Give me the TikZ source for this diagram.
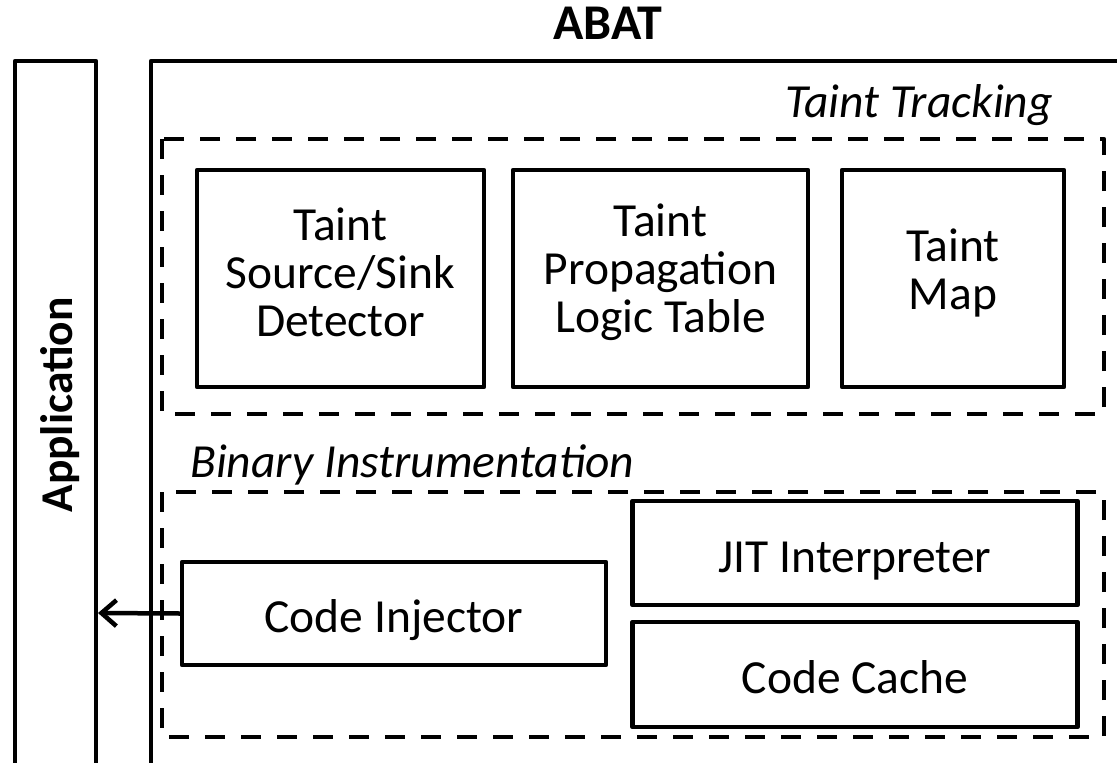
\documentclass[tikz,border=0pt]{standalone}
\usepackage{fontspec}
\setmainfont{Carlito}
\usetikzlibrary{arrows.meta}
\tikzset{
  solidline/.style={line width=4.5pt, line join=round, line cap=round},
  dashline/.style={line width=4.5pt, line join=round, dash pattern=on 20pt off 16pt},
  box/.style={draw, solidline, rectangle, inner sep=0pt},
  onebox/.style={box, align=center, text height=38pt, text depth=0pt,
    font=\fontsize{47.5}{48}\selectfont},
  lbl/.style={inner sep=0pt, align=center, font=\fontsize{47.5}{48}\selectfont},
  arr/.style={solidline, -{Straight Barb[length=15pt, width=26pt, line width=4.5pt]}}
}
\begin{document}
\begin{tikzpicture}[x=1pt, y=-1pt]
\useasboundingbox (0,0) rectangle (1117,763);
% outer frames (cut by the picture edge)
\draw[solidline] (15,775) -- (15,61) -- (96,61) -- (96,775);
\draw[solidline] (151,775) -- (151,61) -- (1130,61);
\node[lbl, font=\fontsize{50}{48}\selectfont\bfseries, anchor=base] (abat) at (608,39) {ABAT};
\node[lbl, font=\fontsize{45.5}{48}\selectfont\bfseries, rotate=90] (app) at (60,405) {Application};
\coordinate (appR) at (98,613);
% taint tracking group
\draw[dashline] (162,139) rectangle (1104,414);
\node[lbl, font=\fontsize{47.5}{48}\selectfont\itshape, anchor=base east] (tt) at (1053,117) {Taint Tracking};
\node[box, minimum width=287pt, minimum height=217pt] (src) at (340.5,278.5) {};
\node[box, minimum width=295pt, minimum height=217pt] (prop) at (660.5,278.5) {};
\node[box, minimum width=222pt, minimum height=217pt] (map) at (953,278.5) {};
\node[lbl, yshift=6pt] (srcT) at (src.center) {Taint\\Source/Sink\\Detector};
\node[lbl, yshift=6pt] (propT) at (prop.center) {Taint\\Propagation\\Logic Table};
\node[lbl, yshift=6pt] (mapT) at (map.center) {Taint\\Map};
% binary instrumentation group
\draw[dashline] (162,492) rectangle (1104,737);
\node[lbl, font=\fontsize{47.5}{48}\selectfont\itshape, anchor=base west] (bi) at (190,477) {Binary Instrumentation};
\node[onebox, minimum width=424pt, minimum height=103pt] (inj) at (394,613.5) {Code Injector};
\node[onebox, minimum width=445pt, minimum height=104pt] (jit) at (855,553) {JIT Interpreter};
\node[onebox, minimum width=445pt, minimum height=105pt] (cache) at (855,674.5) {Code Cache};
\draw[arr] (inj.west) -- (appR);
\end{tikzpicture}
\end{document}
